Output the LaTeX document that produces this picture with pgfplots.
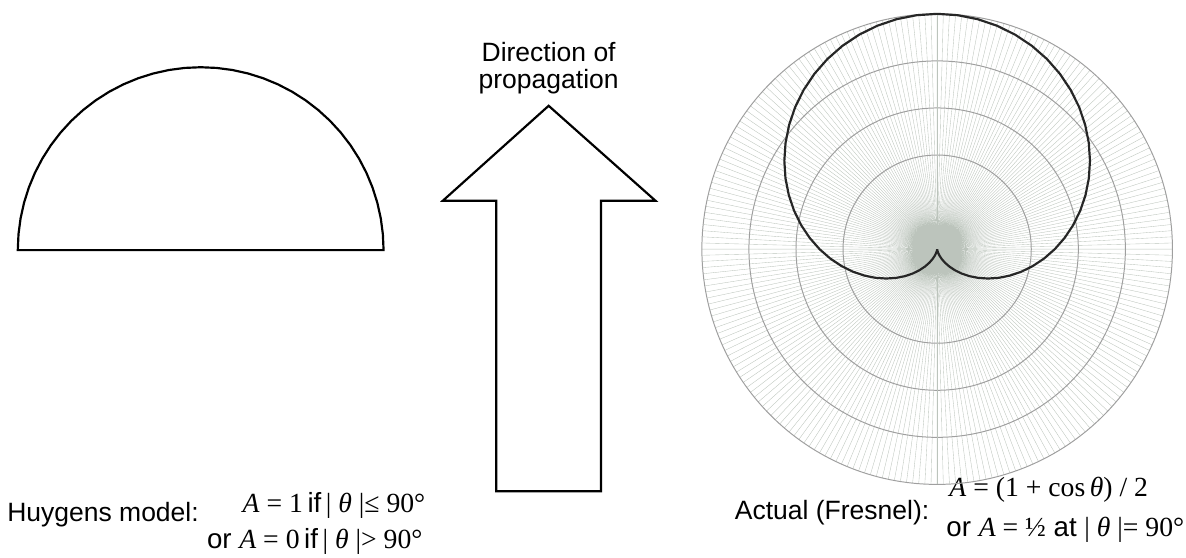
\documentclass[border=0pt]{standalone}
\usepackage{pgfplots}
\pgfplotsset{compat=1.18}
\usepgfplotslibrary{polar}
\usepackage{fontspec}
\setmainfont{Liberation Sans}
\newfontfamily\tnr{Liberation Serif}
\definecolor{gridgreen}{RGB}{188,196,188}
\newcommand\txt{\fontsize{13.4}{16}\selectfont}
\newcommand\frm{\fontsize{14}{16}\selectfont}
\begin{document}
\begin{tikzpicture}
% main canvas axis: 1 unit = 1 px of the reference (y measured from bottom)
\begin{axis}[at={(0pt,0pt)}, anchor=south west, scale only axis,
  width=593pt, height=282pt, xmin=0, xmax=1186, ymin=0, ymax=564,
  hide axis, clip=false]
\path (axis cs:0,0) rectangle (axis cs:1186,564);
% arrow (direction of propagation)
\addplot[black, line width=1.1pt, line join=miter] coordinates {
  (555,457) (663,361) (608,361) (608,67) (502,67) (502,361) (448,361)} --cycle;
\node[anchor=base, inner sep=0pt, font=\txt] at (axis cs:555,502) {Direction of};
\node[anchor=base, inner sep=0pt, font=\txt] at (axis cs:555,474) {propagation};
% Huygens
\node[anchor=base west, inner sep=0pt, font=\txt] at (axis cs:7,36) {Huygens model:};
\node[anchor=base west, inner sep=0pt, font=\frm] at (axis cs:245,46)
  {{\tnr\textit{A} = 1}\,if\,{\tnr| \textit{θ} |≤ 90°}};
\node[anchor=base west, inner sep=0pt, font=\frm] at (axis cs:209,9)
  {or {\tnr\textit{A} = 0}\,if\,{\tnr| \textit{θ} |> 90°}};
% Fresnel
\node[anchor=base west, inner sep=0pt, font=\txt] at (axis cs:743,39) {Actual (Fresnel):};
\node[anchor=base west, inner sep=0pt, font=\frm] at (axis cs:960,62)
  {{\tnr\textit{A} = (1 + cos\,\textit{θ}) / 2}};
\node[anchor=base west, inner sep=0pt, font=\frm] at (axis cs:957,21)
  {or {\tnr\textit{A} = ½} at {\tnr| \textit{θ} |= 90°}};
\end{axis}

% Huygens semicircle: A = 1 for |theta| <= 90
\begin{polaraxis}[at={(101.5pt,155.5pt)}, anchor=center, scale only axis,
  width=185pt, height=185pt, xmin=0, xmax=360, ymin=0, ymax=1, hide axis, clip=false]
\addplot[black, line width=1.1pt] coordinates {
(0,1) (5,1) (10,1) (15,1) (20,1) (25,1) (30,1) (35,1) (40,1) (45,1) (50,1) (55,1)
(60,1) (65,1) (70,1) (75,1) (80,1) (85,1) (90,1) (95,1) (100,1) (105,1) (110,1)
(115,1) (120,1) (125,1) (130,1) (135,1) (140,1) (145,1) (150,1) (155,1) (160,1)
(165,1) (170,1) (175,1) (180,1)} --cycle;
\end{polaraxis}

% Fresnel cardioid: A = (1+cos theta)/2, theta measured from the vertical
\begin{polaraxis}[at={(474pt,156pt)}, anchor=center, scale only axis,
  width=238pt, height=238pt, xmin=0, xmax=360, ymin=0, ymax=1,
  xtick={0,1.5,...,358.5}, ytick={0.4,0.6,0.8},
  xticklabels={}, yticklabels={}, major tick length=0pt,
  xmajorgrids, ymajorgrids,
  x grid style={gridgreen, line width=0.18pt},
  y grid style={gray!75, line width=0.5pt},
  extra x ticks={90,270}, extra x tick labels={},
  extra x tick style={grid=major, major grid style={gray!35, line width=1.2pt}},
  x axis line style={gray!75, line width=0.5pt},
  y axis line style={draw=none}, clip=false]
\addplot[black!85, line width=1.1pt] coordinates {
(0,0.5) (5,0.54358) (10,0.58682) (15,0.62941) (20,0.67101) (25,0.71131) (30,0.75)
(35,0.78679) (40,0.82139) (45,0.85355) (50,0.88302) (55,0.90958) (60,0.93301)
(65,0.95315) (70,0.96985) (75,0.98296) (80,0.99240) (85,0.99810) (90,1)
(95,0.99810) (100,0.99240) (105,0.98296) (110,0.96985) (115,0.95315) (120,0.93301)
(125,0.90958) (130,0.88302) (135,0.85355) (140,0.82139) (145,0.78679) (150,0.75)
(155,0.71131) (160,0.67101) (165,0.62941) (170,0.58682) (175,0.54358) (180,0.5)
(185,0.45642) (190,0.41318) (195,0.37059) (200,0.32899) (205,0.28869) (210,0.25)
(215,0.21321) (220,0.17861) (225,0.14645) (230,0.11698) (235,0.09042) (240,0.06699)
(245,0.04685) (250,0.03015) (255,0.01704) (260,0.00760) (265,0.00190) (270,0)
(275,0.00190) (280,0.00760) (285,0.01704) (290,0.03015) (295,0.04685) (300,0.06699)
(305,0.09042) (310,0.11698) (315,0.14645) (320,0.17861) (325,0.21321) (330,0.25)
(335,0.28869) (340,0.32899) (345,0.37059) (350,0.41318) (355,0.45642) (360,0.5)};
\end{polaraxis}
\end{tikzpicture}
\end{document}
